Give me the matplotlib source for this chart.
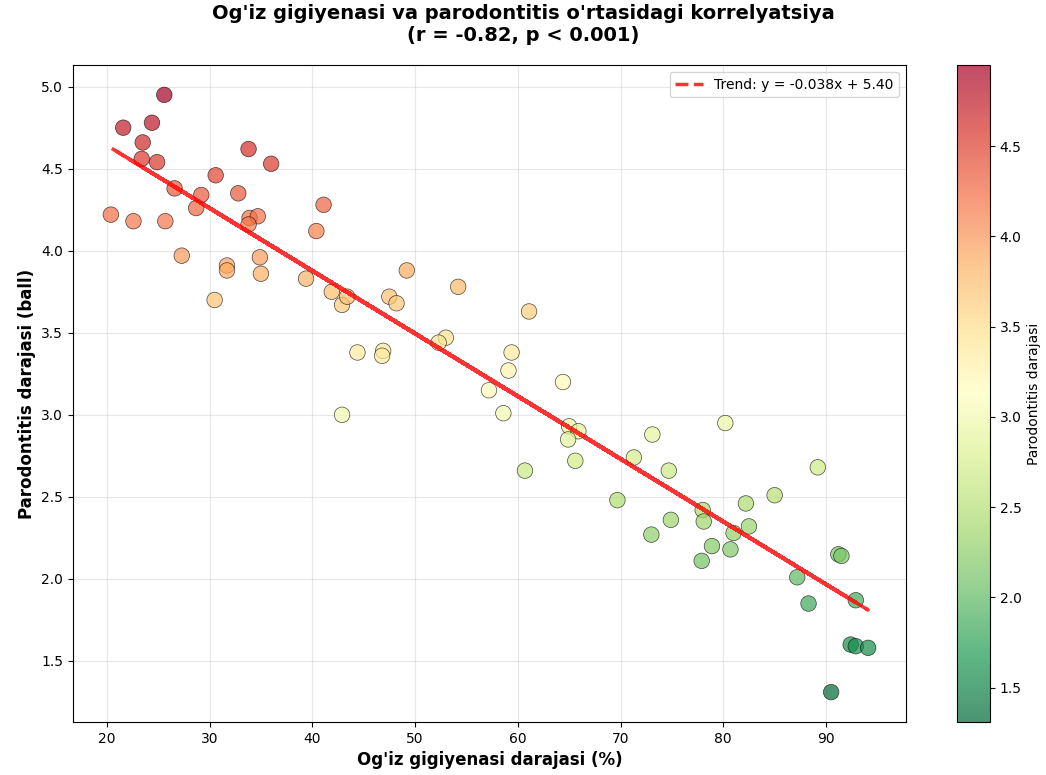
import numpy as np
import matplotlib
matplotlib.use("Agg")
import matplotlib.pyplot as plt

# hygiene level (%) and periodontitis score
hygiene = [25.6, 21.6, 24.4, 23.5, 23.4, 24.9, 33.8, 36.0, 30.6, 26.6,
           29.2, 32.8, 28.7, 20.4, 22.6, 25.7, 33.9, 34.7, 33.8, 41.1,
           40.4, 27.3, 31.7, 31.7, 34.9, 35.0, 30.5, 39.4, 41.9, 42.9,
           43.4, 49.2, 54.2, 47.5, 48.2, 61.1, 53.0, 52.3, 44.4, 46.9,
           46.8, 59.4, 59.1, 57.2, 64.4, 42.9, 58.6, 65.0, 65.9, 64.9,
           65.6, 60.7, 73.1, 71.3, 74.7, 80.2, 69.7, 74.9, 73.0, 78.0,
           78.1, 82.2, 85.0, 82.5, 81.0, 78.9, 80.7, 77.9, 91.2, 91.5,
           87.2, 88.3, 92.9, 92.4, 92.9, 94.1, 90.5, 89.2]
perio = [4.95, 4.75, 4.78, 4.66, 4.56, 4.54, 4.62, 4.53, 4.46, 4.38,
         4.34, 4.35, 4.26, 4.22, 4.18, 4.18, 4.20, 4.21, 4.16, 4.28,
         4.12, 3.97, 3.91, 3.88, 3.96, 3.86, 3.70, 3.83, 3.75, 3.67,
         3.72, 3.88, 3.78, 3.72, 3.68, 3.63, 3.47, 3.44, 3.38, 3.39,
         3.36, 3.38, 3.27, 3.15, 3.20, 3.00, 3.01, 2.93, 2.90, 2.85,
         2.72, 2.66, 2.88, 2.74, 2.66, 2.95, 2.48, 2.36, 2.27, 2.42,
         2.35, 2.46, 2.51, 2.32, 2.28, 2.20, 2.18, 2.11, 2.15, 2.14,
         2.01, 1.85, 1.87, 1.60, 1.59, 1.58, 1.31, 2.68]

trend_label = "Trend: y = -0.038x + 5.40"
title = "Og'iz gigiyenasi va parodontitis o'rtasidagi korrelyatsiya\n(r = -0.82, p < 0.001)"

x = np.array(hygiene)
y = np.array(perio)

fig = plt.figure(figsize=(10.46, 7.75), dpi=100)
ax = fig.add_axes([73 / 1046, 53 / 775, 833 / 1046, 657 / 775])
cax = fig.add_axes([957 / 1046, 53 / 775, 33 / 1046, 657 / 775])

sc = ax.scatter(x, y, c=y, cmap="RdYlGn_r", s=125, alpha=0.7,
                edgecolors="black", linewidths=0.5, zorder=3)

# trend drawn over the unsorted x, so the dashes overlap into a near solid line
coef = np.polyfit(x, y, 1)
order = (np.arange(len(x)) * 29) % len(x)
xs = x[order]
ax.plot(xs, np.polyval(coef, xs), "r--", linewidth=2.5, alpha=0.8,
        label=trend_label, zorder=4)

ax.set_xlabel("Og'iz gigiyenasi darajasi (%)", fontsize=12, fontweight="bold")
ax.set_ylabel("Parodontitis darajasi (ball)", fontsize=12, fontweight="bold")
fig.suptitle(title, fontsize=14, fontweight="bold", y=0.995)
ax.grid(True, alpha=0.3)
ax.legend(loc="upper right", fontsize=10)
ax.tick_params(labelsize=10)

cb = fig.colorbar(sc, cax=cax)
cb.set_label("Parodontitis darajasi", fontsize=10)
cb.ax.tick_params(labelsize=10)

fig.savefig("out.png", dpi=100)
